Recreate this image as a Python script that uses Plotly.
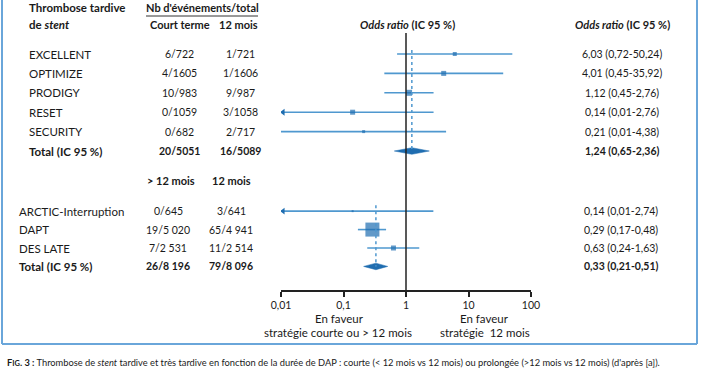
import plotly.graph_objects as go

# ---------------- data ----------------
studies_a = ["EXCELLENT", "OPTIMIZE", "PRODIGY", "RESET", "SECURITY"]
events_short_a = ["6/722", "4/1605", "10/983", "0/1059", "0/682"]
events_12m_a = ["1/721", "1/1606", "9/987", "3/1058", "2/717"]
or_a = [6.03, 4.01, 1.12, 0.14, 0.21]
lo_a = [0.72, 0.45, 0.45, 0.01, 0.01]
hi_a = [50.24, 35.92, 2.76, 2.76, 4.38]
arrow_a = [False, False, False, True, False]
total_a_events = ["20/5051", "16/5089"]
total_a = [1.24, 0.65, 2.36]  # OR, low, high

studies_b = ["ARCTIC-Interruption", "DAPT", "DES LATE"]
events_long_b = ["0/645", "19/5 020", "7/2 531"]
events_12m_b = ["3/641", "65/4 941", "11/2 514"]
or_b = [0.14, 0.29, 0.63]
lo_b = [0.01, 0.17, 0.24]
hi_b = [2.74, 0.48, 1.63]
arrow_b = [True, False, False]
total_b_events = ["26/8 196", "79/8 096"]
total_b = [0.33, 0.21, 0.51]

tick_vals = [0.01, 0.1, 1, 10, 100]
tick_text = ["0,01", "0,1", "1", "10", "100"]

# ---------------- styling / layout helpers ----------------
W, H = 702, 370
FONT = "Lato"
TXT = "#1a1a1a"
LINE_BLUE = "#4f98cf"
MARK_BLUE = "#1f6db0"
BORDER = "#6aa6da"
Y0, DY = 54.0, 19.4           # pixel of first row and row step
AX_BOTTOM = 290.0             # pixel where the x axis line sits
FS_TXT = 11.5                 # words
FS_NUM = 10.5                 # numbers

slots_a = [0, 1, 2, 3, 4]
slot_total_a = 5
slot_header_b = 6.5
slots_b = [8.1, 9.05, 10.0]
slot_total_b = 10.95
marker_sizes_a = [4, 5, 6, 5, 3]
marker_sizes_b = [2, 14, 5]


def px(x):
    return x / W


def py(y):
    return 1 - y / H


def fmt(v):
    return f"{v:.2f}".replace(".", ",")


def ci_text(o, l, h):
    return f"{fmt(o)} ({fmt(l)}-{fmt(h)})"


XMIN = 0.01
fig = go.Figure()


def add_ci(slots, los, his, color):
    xs, ys = [], []
    for s, l, h in zip(slots, los, his):
        xs += [max(l, XMIN), h, None]
        ys += [s, s, None]
    fig.add_trace(go.Scatter(x=xs, y=ys, mode="lines",
                             line=dict(color=color, width=1.6),
                             hoverinfo="skip", showlegend=False))


add_ci(slots_a, lo_a, hi_a, LINE_BLUE)
add_ci(slots_b, lo_b, hi_b, LINE_BLUE)

fig.add_trace(go.Scatter(x=or_a + or_b, y=slots_a + slots_b, mode="markers",
                         marker=dict(symbol="square", color=MARK_BLUE,
                                     size=marker_sizes_a + marker_sizes_b,
                                     line=dict(width=0)),
                         showlegend=False, hoverinfo="skip"))

arr_y = [s for s, a in zip(slots_a + slots_b, arrow_a + arrow_b) if a]
fig.add_trace(go.Scatter(x=[XMIN * 1.08] * len(arr_y), y=arr_y, mode="markers",
                         marker=dict(symbol="triangle-left", color=MARK_BLUE, size=6),
                         showlegend=False, hoverinfo="skip"))


def add_diamond(tot, s, h=0.17):
    o, l, hi = tot
    fig.add_trace(go.Scatter(x=[l, o, hi, o, l], y=[s, s - h, s, s + h, s],
                             mode="lines", fill="toself", fillcolor=MARK_BLUE,
                             line=dict(color=MARK_BLUE, width=0.5),
                             showlegend=False, hoverinfo="skip"))


add_diamond(total_a, slot_total_a)
add_diamond(total_b, slot_total_b)

fig.add_shape(type="line", xref="x", yref="paper", x0=1, x1=1,
              y0=py(AX_BOTTOM), y1=py(33), line=dict(color="#222", width=1.5))
fig.add_shape(type="line", xref="x", yref="y", x0=total_a[0], x1=total_a[0],
              y0=-0.2, y1=slot_total_a, line=dict(color=LINE_BLUE, width=1.5, dash="dot"))
fig.add_shape(type="line", xref="x", yref="y", x0=total_b[0], x1=total_b[0],
              y0=slots_b[0] - 0.3, y1=slot_total_b, line=dict(color=LINE_BLUE, width=1.5, dash="dot"))

# frame (left, right, bottom)
for (x0, y0, x1, y1) in [(2, 0, 2, 344), (697, 0, 697, 344), (2, 344, 697, 344)]:
    fig.add_shape(type="line", xref="paper", yref="paper", x0=px(x0), x1=px(x1),
                  y0=py(y0), y1=py(y1), line=dict(color=BORDER, width=2))

fig.add_shape(type="line", xref="paper", yref="paper", x0=px(146), x1=px(258),
              y0=py(16), y1=py(16), line=dict(color="#333", width=1))

ann = []


def T(text, x, y, anchor="center", size=FS_TXT, bold=False, yref="paper"):
    t = f"<b>{text}</b>" if bold else text
    ann.append(dict(text=t, x=px(x), y=(py(y) if yref == "paper" else y), xref="paper",
                    yref=yref, xanchor=anchor, yanchor="middle", showarrow=False,
                    font=dict(family=FONT, size=size, color=TXT)))


T("Thrombose tardive", 27, 7, "left", bold=True)
T("de <i>stent</i>", 27, 24, "left", bold=True)
T("Nb d'événements/total", 202, 7, bold=True, size=11)
T("Court terme", 180, 24, bold=True, size=11)
T("12 mois", 238, 24, bold=True, size=11)
T("<i>Odds ratio</i> (IC 95 %)", 407, 24, bold=True, size=11)
T("<i>Odds ratio</i> (IC 95 %)", 622, 24, bold=True, size=11)

for name, e1, e2, o, l, h, s in zip(studies_a, events_short_a, events_12m_a, or_a, lo_a, hi_a, slots_a):
    T(name, 27, s, "left", yref="y")
    T(e1, 179, s, size=FS_NUM, yref="y")
    T(e2, 240, s, size=FS_NUM, yref="y")
    T(ci_text(o, l, h), 622, s, size=FS_NUM, yref="y")
T("Total (IC 95 %)", 27, slot_total_a, "left", bold=True, yref="y")
T(total_a_events[0], 179, slot_total_a, size=FS_NUM, bold=True, yref="y")
T(total_a_events[1], 240, slot_total_a, size=FS_NUM, bold=True, yref="y")
T(ci_text(*total_a), 622, slot_total_a, size=FS_NUM, bold=True, yref="y")

T("&gt; 12 mois", 171, slot_header_b, size=11, bold=True, yref="y")
T("12 mois", 231, slot_header_b, size=11, bold=True, yref="y")
for name, e1, e2, o, l, h, s in zip(studies_b, events_long_b, events_12m_b, or_b, lo_b, hi_b, slots_b):
    T(name, 17, s, "left", yref="y")
    T(e1, 168, s, size=FS_NUM, yref="y")
    T(e2, 231, s, size=FS_NUM, yref="y")
    T(ci_text(o, l, h), 621, s, size=FS_NUM, yref="y")
T("Total (IC 95 %)", 17, slot_total_b, "left", bold=True, yref="y")
T(total_b_events[0], 168, slot_total_b, size=FS_NUM, bold=True, yref="y")
T(total_b_events[1], 231, slot_total_b, size=FS_NUM, bold=True, yref="y")
T(ci_text(*total_b), 621, slot_total_b, size=FS_NUM, bold=True, yref="y")

T("En faveur", 339, 318)
T("stratégie courte ou &gt; 12 mois", 338, 332)
T("En faveur", 485, 318)
T("stratégie  12 mois", 485, 332)

T("<b>F<span style='font-size:7.5px'>IG</span>. 3 :</b> Thrombose de <i>stent</i> tardive et très tardive en fonction "
  "de la durée de DAP : courte (&lt; 12 mois vs 12 mois) ou prolongée (&gt;12 mois vs 12 mois) (d'après [a]).",
  5, 362, "left", size=9.3)

fig.update_layout(
    template="none",
    width=W, height=H, margin=dict(l=0, r=0, t=0, b=0, pad=0, autoexpand=False),
    paper_bgcolor="white", plot_bgcolor="white",
    annotations=ann,
    xaxis=dict(type="log", range=[-2, 2], domain=[px(281), px(531)], automargin=False,
               tickvals=tick_vals, ticktext=tick_text, showgrid=False, zeroline=False,
               showline=True, linecolor="#222", linewidth=1.5,
               ticks="outside", ticklen=5, tickwidth=1.5, tickcolor="#222",
               tickfont=dict(family=FONT, size=10.5, color=TXT)),
    yaxis=dict(range=[(AX_BOTTOM - Y0) / DY, (0 - Y0) / DY], domain=[py(AX_BOTTOM), 1],
               visible=False, showgrid=False, zeroline=False, automargin=False),
)

fig.write_html("out.html", config={"displayModeBar": False},
               post_script="document.body.style.margin='0';document.body.style.overflow='hidden';")
